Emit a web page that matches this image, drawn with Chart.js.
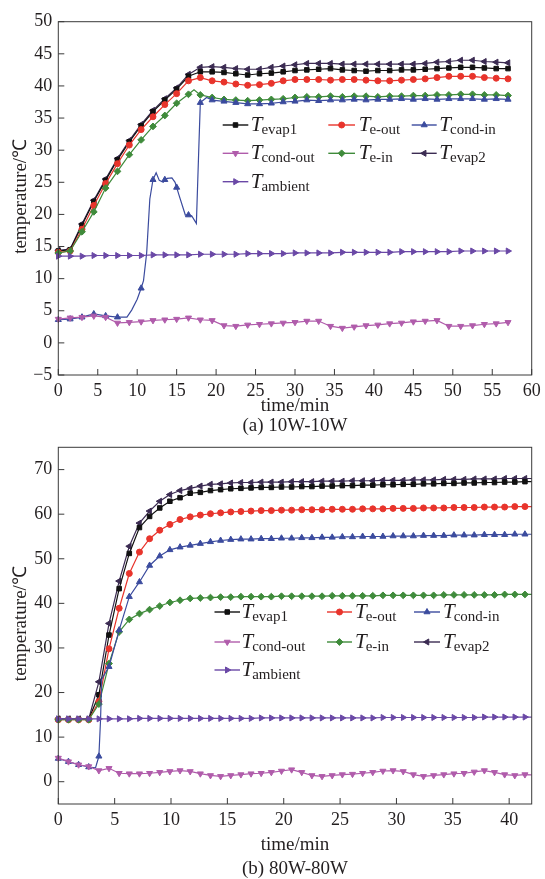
<!DOCTYPE html>
<html>
<head>
<meta charset="utf-8">
<script src="https://cdn.jsdelivr.net/npm/chart.js@4.4.1/dist/chart.umd.min.js"></script>
<style>
  html, body { margin: 0; padding: 0; background: #fff; }
  .wrap { position: absolute; left: 0; width: 545px; }
  #wrapA { top: 0; height: 440px; }
  #wrapB { top: 440px; height: 439px; }
</style>
</head>
<body>
<div class="wrap" id="wrapA"><canvas id="chartA"></canvas></div>
<div class="wrap" id="wrapB"><canvas id="chartB"></canvas></div>
<script>
// ---------- (a) 10W-10W ----------
const timeA = [0,1.5,3,4.5,6,7.5,9,10.5,12,13.5,15,16.5,18,19.5,21,22.5,24,25.5,27,28.5,30,31.5,33,34.5,36,37.5,39,40.5,42,43.5,45,46.5,48,49.5,51,52.5,54,55.5,57];
const evap1A = [14.3,14.5,18.3,22.0,25.3,28.5,31.3,33.8,36.0,37.8,39.5,41.5,42.2,42.2,42.1,41.9,41.7,41.9,42.0,42.2,42.4,42.5,42.6,42.7,42.5,42.4,42.3,42.4,42.4,42.5,42.5,42.6,42.7,42.8,42.9,42.9,42.8,42.7,42.7];
const evap2A = [14.4,14.6,18.5,22.2,25.5,28.7,31.5,34.0,36.2,38.0,39.7,41.8,42.9,43.0,42.9,42.7,42.6,42.6,42.9,43.1,43.3,43.5,43.5,43.5,43.4,43.4,43.4,43.4,43.4,43.4,43.4,43.5,43.7,43.8,44.0,44.0,43.8,43.7,43.6];
const eOutA = [14.1,14.3,17.7,21.4,24.8,27.9,30.8,33.2,35.2,37.1,38.8,40.8,41.3,40.8,40.6,40.3,40.1,40.2,40.4,40.8,41.0,41.0,41.0,40.9,41.0,41.0,40.9,40.8,40.8,40.9,41.0,41.1,41.3,41.5,41.5,41.5,41.3,41.2,41.1];
const eInTimeA = [0,1.5,3,4.5,6,7.5,9,10.5,12,13.5,15,16.5,17.2,18,19.5,21,22.5,24,25.5,27,28.5,30,31.5,33,34.5,36,37.5,39,40.5,42,43.5,45,46.5,48,49.5,51,52.5,54,55.5,57];
const eInA = [14.0,14.3,17.3,20.4,24.1,26.7,29.3,31.6,33.7,35.4,37.3,38.7,39.4,38.6,38.2,37.9,37.8,37.7,37.8,37.9,38.0,38.2,38.3,38.3,38.4,38.3,38.4,38.4,38.3,38.4,38.4,38.5,38.5,38.6,38.6,38.7,38.7,38.6,38.6,38.5];
const condInTimeA = [0,1.5,3,4.5,6,7.5,8.7,9.3,10,10.5,10.8,11.2,11.6,12,12.4,12.8,13.3,13.5,13.8,14.4,14.8,15,15.3,16.1,16.5,16.9,17.5,17.8,18,18.8,19.5,21,22.5,24,25.5,27,28.5,30,31.5,33,34.5,36,37.5,39,40.5,42,43.5,45,46.5,48,49.5,51,52.5,54,55.5,57];
const condInA = [3.6,3.7,4.0,4.5,4.2,4.0,4.0,5.1,6.8,8.5,9.7,14.0,22.4,25.4,26.5,25.3,25.0,25.4,25.6,25.7,25.0,24.2,23.0,19.9,19.9,19.8,18.6,30.0,37.4,38.2,37.8,37.6,37.4,37.2,37.2,37.3,37.5,37.6,37.8,37.7,37.8,37.8,37.9,37.8,37.9,37.9,38.0,37.9,38.0,37.9,38.0,38.0,38.0,37.9,38.0,37.9];
const condOutA = [3.7,3.9,4.0,4.2,4.0,3.1,3.2,3.3,3.5,3.6,3.7,3.9,3.6,3.5,2.7,2.6,2.8,2.9,3.0,3.1,3.2,3.4,3.4,2.6,2.3,2.5,2.7,2.8,3.0,3.1,3.3,3.4,3.5,2.6,2.6,2.7,2.9,3.0,3.2];
const ambientA = [13.5,13.5,13.5,13.6,13.6,13.6,13.6,13.6,13.7,13.7,13.7,13.7,13.8,13.8,13.8,13.8,13.9,13.9,13.9,13.9,14.0,14.0,14.0,14.0,14.1,14.1,14.1,14.1,14.1,14.2,14.2,14.2,14.2,14.2,14.3,14.3,14.3,14.3,14.3];
const xTicksA = [0,5,10,15,20,25,30,35,40,45,50,55,60];
const yTicksA = [-5,0,5,10,15,20,25,30,35,40,45,50];

// ---------- (b) 80W-80W ----------
const timeB = [0,0.9,1.8,2.7,3.6,4.5,5.4,6.3,7.2,8.1,9.0,9.9,10.8,11.7,12.6,13.5,14.4,15.3,16.2,17.1,18.0,18.9,19.8,20.7,21.6,22.5,23.4,24.3,25.2,26.1,27.0,27.9,28.8,29.7,30.6,31.5,32.4,33.3,34.2,35.1,36.0,36.9,37.8,38.7,39.6,40.5,41.4,42.3];
const evap1B = [14.0,14.0,14.0,14.0,19.5,32.9,43.3,51.2,57.0,59.5,61.4,62.9,63.7,64.7,64.9,65.3,65.5,65.7,65.8,65.9,66.0,66.0,66.1,66.1,66.2,66.2,66.3,66.3,66.4,66.4,66.5,66.5,66.6,66.6,66.7,66.7,66.8,66.8,66.9,66.9,67.0,67.0,67.1,67.1,67.2,67.2,67.3,67.3];
const evap2B = [14.1,14.1,14.1,14.1,22.4,35.5,45.0,52.8,58.0,60.7,62.9,64.4,65.3,65.8,66.3,66.7,66.8,67.0,67.1,67.1,67.2,67.2,67.2,67.3,67.3,67.3,67.4,67.4,67.4,67.5,67.5,67.5,67.6,67.6,67.6,67.7,67.7,67.7,67.8,67.8,67.8,67.9,67.9,67.9,68.0,68.0,68.0,68.0];
const eOutB = [13.9,13.9,13.9,13.9,18.0,29.8,38.9,46.7,51.5,54.5,56.4,57.7,58.8,59.4,59.8,60.1,60.3,60.5,60.6,60.7,60.8,60.8,60.9,60.9,61.0,61.0,61.0,61.1,61.1,61.1,61.2,61.2,61.2,61.3,61.3,61.3,61.4,61.4,61.4,61.5,61.5,61.5,61.6,61.6,61.6,61.7,61.7,61.7];
const eInB = [13.9,13.9,13.9,13.9,17.4,26.5,33.6,36.4,37.7,38.6,39.4,40.2,40.7,41.1,41.2,41.3,41.4,41.4,41.5,41.5,41.5,41.5,41.6,41.6,41.6,41.6,41.6,41.7,41.7,41.7,41.7,41.7,41.8,41.8,41.8,41.8,41.8,41.8,41.9,41.9,41.9,41.9,41.9,41.9,42.0,42.0,42.0,42.0];
const condInTimeB = [0,0.9,1.8,2.7,3.3,3.6,3.75,3.85,4.5,5.4,6.3,7.2,8.1,9.0,9.9,10.8,11.7,12.6,13.5,14.4,15.3,16.2,17.1,18.0,18.9,19.8,20.7,21.6,22.5,23.4,24.3,25.2,26.1,27.0,27.9,28.8,29.7,30.6,31.5,32.4,33.3,34.2,35.1,36.0,36.9,37.8,38.7,39.6,40.5,41.4,42.3];
const condInB = [5.2,4.5,3.8,3.3,3.1,5.7,14.0,23.0,25.8,34.0,41.5,44.8,48.5,50.6,52.0,52.6,53.0,53.4,53.8,54.1,54.3,54.4,54.4,54.5,54.5,54.6,54.6,54.7,54.7,54.8,54.8,54.9,54.9,55.0,55.0,55.0,55.1,55.1,55.1,55.2,55.2,55.2,55.3,55.3,55.3,55.4,55.4,55.4,55.5,55.5,55.5];
const condOutB = [5.3,4.5,3.8,3.4,2.5,3.0,1.9,1.8,1.8,1.9,2.1,2.3,2.5,2.3,1.8,1.4,1.2,1.4,1.6,1.8,1.9,2.1,2.4,2.7,2.1,1.4,1.2,1.4,1.6,1.7,1.9,2.1,2.4,2.5,2.3,1.6,1.2,1.4,1.6,1.8,1.9,2.2,2.5,2.1,1.6,1.4,1.6,1.5];
const ambientB = [14.1,14.1,14.1,14.1,14.1,14.1,14.1,14.1,14.2,14.2,14.2,14.2,14.2,14.2,14.2,14.2,14.2,14.2,14.2,14.2,14.3,14.3,14.3,14.3,14.3,14.3,14.3,14.3,14.3,14.3,14.3,14.3,14.4,14.4,14.4,14.4,14.4,14.4,14.4,14.4,14.4,14.4,14.5,14.5,14.5,14.5,14.5,14.5];
const xTicksB = [0,5,10,15,20,25,30,35,40];
const yTicksB = [0,10,20,30,40,50,60,70];

// ---------- style ----------
const SERIF = '"Liberation Serif", "Times New Roman", serif';
const INK = '#231f20';
const STYLES = {
  evap1:   { sub: 'evap1',    color: '#111111', point: 'rect',     rot: 0,   r: 3.2 },
  eOut:    { sub: 'e-out',    color: '#e8342c', point: 'circle',   rot: 0,   r: 3 },
  condIn:  { sub: 'cond-in',  color: '#3b4b9e', point: 'triangle', rot: 0,   r: 3.5 },
  condOut: { sub: 'cond-out', color: '#b05cab', point: 'triangle', rot: 180, r: 3.5 },
  eIn:     { sub: 'e-in',     color: '#3f8b3b', point: 'rectRot',  rot: 0,   r: 3.4 },
  evap2:   { sub: 'evap2',    color: '#3b2b52', point: 'triangle', rot: -90, r: 3.5 },
  ambient: { sub: 'ambient',  color: '#6a48a6', point: 'triangle', rot: 90,  r: 3.5 }
};
const LEGEND_ORDER = [['evap1', 'eOut', 'condIn'], ['condOut', 'eIn', 'evap2'], ['ambient']];

function onGrid(t, step) {
  const k = t / step;
  return Math.abs(k - Math.round(k)) < 0.01;
}

function series(key, times, values, step) {
  const s = STYLES[key];
  return {
    label: 'T' + s.sub,
    data: times.map((t, i) => ({ x: t, y: values[i] })),
    borderColor: s.color,
    backgroundColor: s.color,
    borderWidth: 1.2,
    tension: 0,
    pointStyle: s.point,
    pointRotation: s.rot,
    pointRadius: ctx => onGrid(times[ctx.dataIndex], step) ? s.r : 0,
    pointBorderWidth: 1,
    pointBackgroundColor: s.color,
    pointBorderColor: s.color,
    clip: { left: 6, top: 6, right: 0, bottom: 6 }
  };
}

// frame box + inward ticks
const framePlugin = {
  id: 'frame',
  afterDatasetsDraw(chart) {
    const { ctx, chartArea: a, scales: { x, y } } = chart;
    ctx.save();
    ctx.strokeStyle = '#3a3a3a';
    ctx.lineWidth = 1;
    ctx.strokeRect(a.left, a.top, a.right - a.left, a.bottom - a.top);
    ctx.beginPath();
    x.ticks.forEach(t => {
      const px = x.getPixelForValue(t.value);
      ctx.moveTo(px, a.bottom);
      ctx.lineTo(px, a.bottom - 6);
    });
    y.ticks.forEach(t => {
      const py = y.getPixelForValue(t.value);
      ctx.moveTo(a.left, py);
      ctx.lineTo(a.left + 6, py);
    });
    ctx.stroke();
    ctx.restore();
  }
};

// legend with italic T and subscripts, axis titles and caption
const textPlugin = {
  id: 'texts',
  afterDraw(chart, args, opts) {
    const { ctx, chartArea: a } = chart;
    ctx.save();
    ctx.fillStyle = INK;

    // legend
    LEGEND_ORDER.forEach((row, ri) => {
      const y = opts.rows[ri];
      row.forEach((key, ci) => {
        const s = STYLES[key];
        const c = opts.cols[ci];
        ctx.strokeStyle = s.color;
        ctx.fillStyle = s.color;
        ctx.lineWidth = 1.4;
        ctx.beginPath();
        ctx.moveTo(c[0], y);
        ctx.lineTo(c[1], y);
        ctx.stroke();
        ctx.lineWidth = 1;
        Chart.helpers.drawPoint(ctx, { pointStyle: s.point, rotation: s.rot, radius: s.r, borderWidth: 1 }, (c[0] + c[1]) / 2, y);
        ctx.fillStyle = INK;
        ctx.textAlign = 'left';
        ctx.textBaseline = 'alphabetic';
        ctx.font = 'italic 21px ' + SERIF;
        ctx.fillText('T', c[2], y + 6);
        const w = ctx.measureText('T').width;
        ctx.font = '15px ' + SERIF;
        ctx.fillText(s.sub, c[2] + w - 1, y + 9);
      });
    });

    // axis titles and caption
    ctx.fillStyle = INK;
    ctx.textAlign = 'center';
    ctx.textBaseline = 'middle';
    ctx.font = '19px ' + SERIF;
    ctx.fillText('time/min', (a.left + a.right) / 2, opts.xTitleY);
    ctx.fillText(opts.caption, (a.left + a.right) / 2, opts.captionY);
    ctx.translate(21, (a.top + a.bottom) / 2 - 2);
    ctx.rotate(-Math.PI / 2);
    ctx.fillText('temperature/℃', 0, 0);
    ctx.restore();
  }
};

function fmt(v) {
  return v < 0 ? '\u2212' + Math.abs(v) : String(v);
}

function makeChart(id, cfg) {
  const tickFont = { family: SERIF, size: 18 };
  return new Chart(document.getElementById(id), {
    type: 'line',
    data: { datasets: cfg.datasets },
    options: {
      responsive: true,
      maintainAspectRatio: false,
      animation: false,
      devicePixelRatio: 1,
      layout: { padding: { left: 0, right: 13.3, top: cfg.top, bottom: 0 } },
      plugins: {
        legend: { display: false },
        tooltip: { enabled: false },
        texts: cfg.texts
      },
      scales: {
        x: {
          type: 'linear',
          min: cfg.xMin, max: cfg.xMax,
          grid: { display: false, drawTicks: false },
          border: { display: false },
          afterBuildTicks: s => { s.ticks = cfg.xTicks.map(v => ({ value: v })); },
          afterFit: s => { s.height = cfg.xHeight; s.paddingLeft = 0; s.paddingRight = 0; },
          ticks: { font: tickFont, color: INK, padding: 5, maxRotation: 0, autoSkip: false, callback: fmt }
        },
        y: {
          min: cfg.yMin, max: cfg.yMax,
          grid: { display: false, drawTicks: false },
          border: { display: false },
          afterBuildTicks: s => { s.ticks = cfg.yTicks.map(v => ({ value: v })); },
          afterFit: s => { s.width = 58.3; s.paddingTop = 0; s.paddingBottom = 0; },
          ticks: { font: tickFont, color: INK, padding: 6, autoSkip: false, callback: fmt }
        }
      }
    },
    plugins: [framePlugin, textPlugin]
  });
}

makeChart('chartA', {
  datasets: [
    series('ambient', timeA, ambientA, 1.5),
    series('condOut', timeA, condOutA, 1.5),
    series('condIn', condInTimeA, condInA, 1.5),
    series('eIn', eInTimeA, eInA, 1.5),
    series('eOut', timeA, eOutA, 1.5),
    series('evap1', timeA, evap1A, 1.5),
    series('evap2', timeA, evap2A, 1.5)
  ],
  top: 21.7, xHeight: 65,
  xMin: 0, xMax: 60, yMin: -5, yMax: 50,
  xTicks: xTicksA, yTicks: yTicksA,
  texts: {
    rows: [125, 153.3, 181.7],
    cols: [[222.7, 248.3, 250.7], [328.3, 355, 358.7], [411.7, 436.7, 439.3]],
    xTitleY: 406, captionY: 426, caption: '(a) 10W-10W'
  }
});

makeChart('chartB', {
  datasets: [
    series('ambient', timeB, ambientB, 0.9),
    series('condOut', timeB, condOutB, 0.9),
    series('condIn', condInTimeB, condInB, 0.9),
    series('eIn', timeB, eInB, 0.9),
    series('eOut', timeB, eOutB, 0.9),
    series('evap1', timeB, evap1B, 0.9),
    series('evap2', timeB, evap2B, 0.9)
  ],
  top: 7.3, xHeight: 75,
  xMin: 0, xMax: 42, yMin: -5, yMax: 75,
  xTicks: xTicksB, yTicks: yTicksB,
  texts: {
    rows: [172, 202, 230],
    cols: [[214.5, 240, 241.5], [327, 352, 355], [414, 440, 443]],
    xTitleY: 405, captionY: 429, caption: '(b) 80W-80W'
  }
});
</script>
</body>
</html>
